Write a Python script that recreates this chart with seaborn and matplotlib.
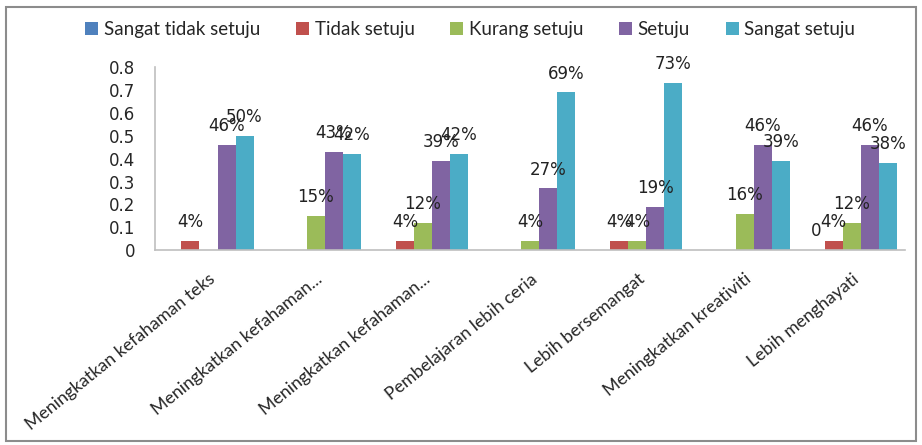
import numpy as np
import pandas as pd
import matplotlib
matplotlib.use('Agg')
import matplotlib.pyplot as plt
from matplotlib.patches import Rectangle, Patch
from matplotlib.transforms import ScaledTranslation
import seaborn as sns

# chart data
cat_keys = ['c1', 'c2', 'c3', 'c4', 'c5', 'c6', 'c7']
cat_labels = ['Meningkatkan kefahaman teks', 'Meningkatkan kefahaman...',
              'Meningkatkan kefahaman...', 'Pembelajaran lebih ceria',
              'Lebih bersemangat', 'Meningkatkan kreativiti', 'Lebih menghayati']
series_names = ['Sangat tidak setuju', 'Tidak setuju', 'Kurang setuju', 'Setuju', 'Sangat setuju']
sangat_tidak_setuju = [np.nan, np.nan, np.nan, np.nan, np.nan, np.nan, 0.0]
tidak_setuju = [0.04, np.nan, 0.04, np.nan, 0.04, np.nan, 0.04]
kurang_setuju = [np.nan, 0.15, 0.12, 0.04, 0.04, 0.16, 0.12]
setuju = [0.46, 0.43, 0.39, 0.27, 0.19, 0.46, 0.46]
sangat_setuju = [0.50, 0.42, 0.42, 0.69, 0.73, 0.39, 0.38]
colors = ['#4F81BD', '#C0504D', '#9BBB59', '#8064A2', '#4BACC6']

all_series = [sangat_tidak_setuju, tidak_setuju, kurang_setuju, setuju, sangat_setuju]
rows = []
for name, vals in zip(series_names, all_series):
    for key, v in zip(cat_keys, vals):
        rows.append({'cat': key, 'series': name, 'value': v})
df = pd.DataFrame(rows)
df['height'] = df['value'].fillna(0)

sns.set_style('white')
plt.rcParams['font.family'] = ['DejaVu Sans']

fig = plt.figure(figsize=(9.22, 4.45), dpi=100)
ax = fig.add_axes([0.168, 0.438, 0.814, 0.411])

sns.barplot(data=df, x='cat', y='height', hue='series', order=cat_keys,
            hue_order=series_names, palette=colors, width=0.84, gap=0,
            saturation=1, edgecolor='none', linewidth=0, legend=False, ax=ax)

# value labels
for container, vals in zip(ax.containers, all_series):
    for patch, v in zip(container.patches, vals):
        if np.isnan(v):
            continue
        txt = '0' if v == 0 else f'{v:.0%}'
        ax.annotate(txt, (patch.get_x() + patch.get_width() / 2, patch.get_height()),
                    xytext=(0, 7), textcoords='offset points',
                    ha='center', va='bottom', fontsize=12, color='#222222')

ax.set_ylim(0, 0.8)
ax.set_xlim(-0.5, 6.5)
ax.set_yticks(np.arange(0, 0.81, 0.1))
ax.set_yticklabels(['0'] + [f'{t:.1f}' for t in np.arange(0.1, 0.81, 0.1)], fontsize=12)
ax.set_xticks(range(len(cat_keys)))
ax.set_xticklabels(cat_labels, rotation=39, ha='right', va='top',
                   rotation_mode='anchor', fontsize=12.8, family='Lato')
shift = ScaledTranslation(-12 / 100, 0, fig.dpi_scale_trans)
for lbl in ax.get_xticklabels():
    lbl.set_transform(lbl.get_transform() + shift)
ax.tick_params(axis='both', length=0)
ax.tick_params(axis='x', pad=15)
ax.tick_params(axis='y', pad=14)
ax.set_xlabel('')
ax.set_ylabel('')
for side in ['top', 'right']:
    ax.spines[side].set_visible(False)
for side in ['left', 'bottom']:
    ax.spines[side].set_color('#bfbfbf')
    ax.spines[side].set_linewidth(1.2)

handles = [Patch(facecolor=c, edgecolor='none') for c in colors]
fig.legend(handles, series_names, loc='center', bbox_to_anchor=(0.51, 0.933),
           ncol=5, frameon=False, handlelength=0.7, handleheight=0.7,
           handletextpad=0.3, columnspacing=1.9, prop={'family': 'Lato', 'size': 13.5})

fig.patches.append(Rectangle((0.006, 0.01), 0.988, 0.975, transform=fig.transFigure,
                             fill=False, edgecolor='#8c8c8c', linewidth=1.5))

fig.savefig('out.png', dpi=100)
